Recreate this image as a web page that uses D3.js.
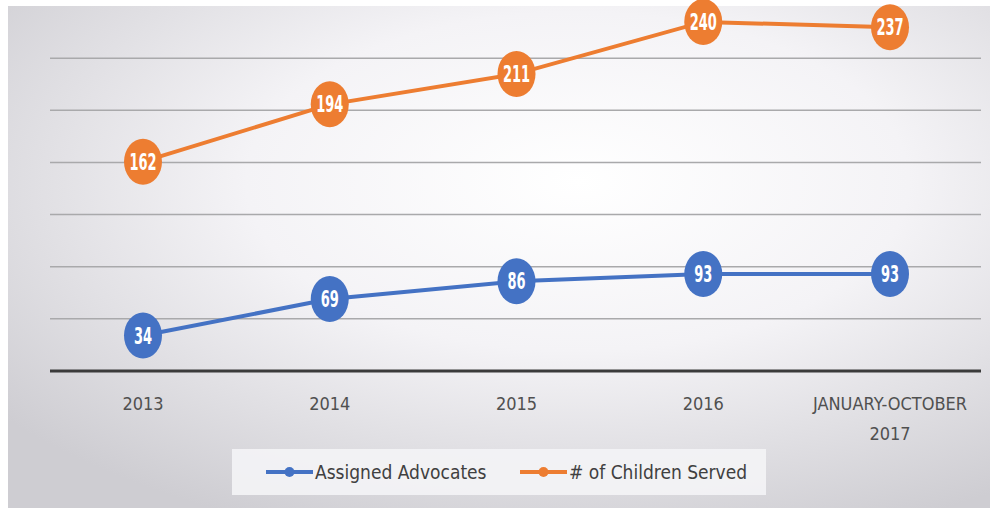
<!DOCTYPE html>
<html>
<head>
<meta charset="utf-8">
<script src="https://cdn.jsdelivr.net/npm/d3@7"></script>
<style>
  body { margin: 0; background: #fff; }
  svg { display: block; }
</style>
</head>
<body>
<div id="chart"></div>
<script>
var width = 993,
    height = 508;

// data
var categories = ["2013", "2014", "2015", "2016", "JANUARY-OCTOBER 2017"];
var advocates = [34, 69, 86, 93, 93];
var children = [162, 194, 211, 240, 237];
var gridTicks = [50, 100, 150, 200, 250, 300];
var seriesNames = ["Assigned Advocates", "# of Children Served"];

var blue = "#4472c4",
    orange = "#ed7d31";

var svg = d3.select("#chart").append("svg")
    .attr("width", width)
    .attr("height", height);

var defs = svg.append("defs");
var grad = defs.append("radialGradient")
    .attr("id", "bg")
    .attr("cx", "58%").attr("cy", "35%").attr("r", "75%")
    .attr("gradientUnits", "objectBoundingBox");
grad.append("stop").attr("offset", "0%").attr("stop-color", "#ffffff");
grad.append("stop").attr("offset", "45%").attr("stop-color", "#f4f3f6");
grad.append("stop").attr("offset", "100%").attr("stop-color", "#cecdd2");

svg.append("rect")
    .attr("x", 8).attr("y", 6)
    .attr("width", 982).attr("height", height - 6)
    .attr("fill", "url(#bg)");

var plotLeft = 50, plotRight = 981;

var x = d3.scalePoint()
    .domain(categories)
    .range([143, 890]);

// primary axis (advocates) and secondary axis (children served)
var yLeft = d3.scaleLinear().domain([0, 350]).range([371, 6]);
var yRight = d3.scaleLinear().domain([0, 250]).range([452, 4]);

var g = svg.append("g");

g.selectAll(".grid").data(gridTicks).enter()
    .append("line").attr("class", "grid")
    .attr("x1", plotLeft).attr("x2", plotRight)
    .attr("y1", function(d) { return yLeft(d); })
    .attr("y2", function(d) { return yLeft(d); })
    .attr("stroke", "#a9a9ab")
    .attr("stroke-width", 1.5);

g.append("line")
    .attr("x1", plotLeft).attr("x2", plotRight)
    .attr("y1", yLeft(0)).attr("y2", yLeft(0))
    .attr("stroke", "#3b3b3b")
    .attr("stroke-width", 3);

// category labels
var xLab = g.selectAll(".xlab").data(categories).enter()
    .append("text").attr("class", "xlab")
    .attr("x", function(d) { return x(d); })
    .attr("y", 410)
    .attr("text-anchor", "middle")
    .attr("font-family", "'DejaVu Sans Condensed', 'Liberation Sans Narrow', sans-serif")
    .attr("font-size", 18)
    .attr("fill", "#505050");
xLab.each(function(d) {
    var words = d === categories[4] ? ["JANUARY-OCTOBER", "2017"] : [d];
    var t = d3.select(this);
    words.forEach(function(w, i) {
        t.append("tspan").attr("x", x(d)).attr("dy", i ? 30 : 0).text(w);
    });
});

function drawSeries(values, y, color) {
    var s = g.append("g");
    var line = d3.line()
        .x(function(d, i) { return x(categories[i]); })
        .y(function(d) { return y(d); });
    s.append("path")
        .datum(values)
        .attr("d", line)
        .attr("fill", "none")
        .attr("stroke", color)
        .attr("stroke-width", 4);
    s.selectAll("ellipse").data(values).enter()
        .append("ellipse")
        .attr("cx", function(d, i) { return x(categories[i]); })
        .attr("cy", function(d) { return y(d); })
        .attr("rx", 19).attr("ry", 23)
        .attr("fill", color);
    s.selectAll("text").data(values).enter()
        .append("text")
        .attr("transform", function(d, i) {
            return "translate(" + x(categories[i]) + "," + (y(d) + 8) + ") scale(0.85,1.3)";
        })
        .attr("text-anchor", "middle")
        .attr("font-family", "'DejaVu Sans Condensed', 'Liberation Sans Narrow', sans-serif")
        .attr("font-weight", "bold")
        .attr("font-size", 17)
        .attr("fill", "#fff")
        .text(function(d) { return d; });
}

drawSeries(advocates, yLeft, blue);
drawSeries(children, yRight, orange);

// legend
var legend = svg.append("g");
legend.append("rect")
    .attr("x", 232).attr("y", 449)
    .attr("width", 534).attr("height", 46)
    .attr("fill", "#f4f4f6")
    .attr("opacity", 0.9);

var items = legend.selectAll(".item").data(seriesNames).enter()
    .append("g").attr("class", "item")
    .attr("transform", function(d, i) { return "translate(" + (i ? 520 : 266) + ",472)"; });
items.append("line")
    .attr("x1", 0).attr("x2", 47)
    .attr("stroke", function(d, i) { return i ? orange : blue; })
    .attr("stroke-width", 4);
items.append("circle")
    .attr("cx", 23.5).attr("r", 5)
    .attr("fill", function(d, i) { return i ? orange : blue; });
items.append("text")
    .attr("x", 49).attr("y", 7)
    .attr("font-family", "'DejaVu Sans Condensed', 'Liberation Sans Narrow', sans-serif")
    .attr("font-size", 19)
    .attr("fill", "#404040")
    .text(function(d) { return d; });
</script>
</body>
</html>
